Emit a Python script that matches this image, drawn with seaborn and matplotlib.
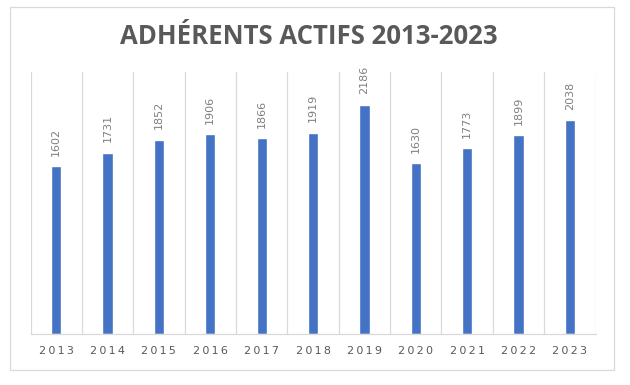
import matplotlib
matplotlib.use("Agg")
import matplotlib.pyplot as plt
import seaborn as sns
import pandas as pd
from matplotlib.patches import Rectangle

years = ["2013", "2014", "2015", "2016", "2017", "2018", "2019", "2020", "2021", "2022", "2023"]
members = [1602, 1731, 1852, 1906, 1866, 1919, 2186, 1630, 1773, 1899, 2038]
title = "ADHÉRENTS ACTIFS 2013-2023"

df = pd.DataFrame({"year": years, "members": members})

sns.set_theme(style="white")
plt.rcParams["font.family"] = ["DejaVu Sans"]

fig = plt.figure(figsize=(6.3, 3.85), dpi=100)
ax = fig.add_axes([30.5 / 630, 51 / 385, 565 / 630, 262 / 385])

sns.barplot(data=df, x="year", y="members", color="#4472C4", width=0.2,
            saturation=1, ax=ax)

ax.set_ylim(0, 2500)
ax.set_xlim(-0.5, len(years) - 0.5)
for i in range(len(years) + 1):
    ax.axvline(i - 0.5, color="#D9D9D9", lw=0.9, zorder=0)

for s in ["top", "left", "right"]:
    ax.spines[s].set_visible(False)
ax.spines["bottom"].set_color("#D9D9D9")
ax.spines["bottom"].set_linewidth(0.9)
ax.set_yticks([])
ax.set_xlabel("")
ax.set_ylabel("")
ax.set_xticks(range(len(years)))
ax.set_xticklabels(["\u2009".join(y) for y in years], fontsize=8, color="#595959")
ax.tick_params(axis="x", length=0, pad=9)

for i, v in enumerate(members):
    ax.annotate(str(v), (i, v), xytext=(0, 7.5), textcoords="offset points",
                rotation=90, ha="center", va="bottom", fontsize=8, color="#7F7F7F")

fig.text(309 / 630, 1 - 37 / 385, title, ha="center", va="center",
         fontsize=18.5, fontweight="bold", color="#595959", family="Open Sans")

fig.patches.append(Rectangle((10 / 630, 15 / 385), 604 / 630, 363 / 385,
                             transform=fig.transFigure, fill=False,
                             edgecolor="#D9D9D9", lw=0.9))

fig.savefig("out.png", dpi=100, facecolor="white")
